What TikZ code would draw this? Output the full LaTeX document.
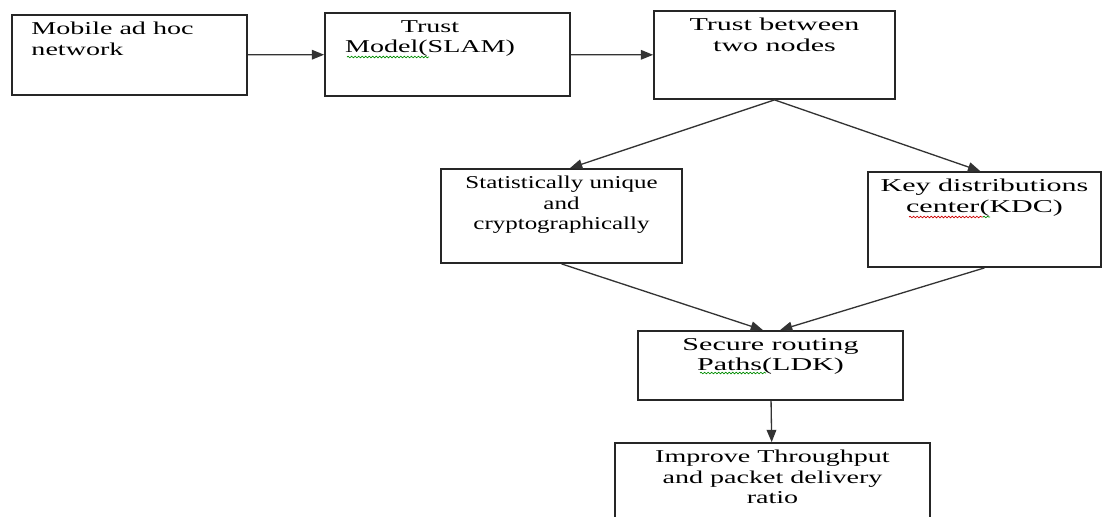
\documentclass[tikz,border=0pt]{standalone}
\usepackage{fontspec}
\setmainfont[FakeStretch=1.55]{Liberation Serif}
\newfontfamily\widefont[FakeStretch=1.66]{Liberation Serif}
\newfontfamily\narrowfont[FakeStretch=1.38]{Liberation Serif}
\usetikzlibrary{arrows.meta,decorations.pathmorphing}

\tikzset{
  box/.style={draw=black!85, line width=1pt, inner sep=0pt},
  lbl/.style={inner sep=0pt, align=center, yshift=-4.5pt,
    font=\fontsize{10.3}{11.5}\selectfont},
  wide/.style={font=\widefont\fontsize{10.3}{11.5}\selectfont},
  narrow/.style={font=\narrowfont\fontsize{10.3}{11.5}\selectfont},
  arr/.style={draw=black!80, line width=0.75pt, -{Triangle[length=7pt,width=5.5pt]}},
  squig/.style={decorate, line width=0.4pt,
    decoration={snake, amplitude=0.45pt, segment length=2pt}}
}

\begin{document}
\begin{tikzpicture}
  \useasboundingbox (0,0) rectangle (22.06,-10.32);

  % boxes
  \node[box, minimum width=4.70cm, minimum height=1.60cm,
    label={[lbl, anchor=north west, align=left, xshift=0.4cm]north west:{Mobile ad hoc\\network}}]
    (mobile) at (2.59,-1.10) {};
  \node[box, minimum width=4.90cm, minimum height=1.66cm,
    label={[lbl, anchor=north, xshift=-0.35cm]north:{Trust\\Model(SLAM)}}]
    (model) at (8.95,-1.09) {};
  \node[box, minimum width=4.82cm, minimum height=1.76cm,
    label={[lbl, wide, anchor=north]north:{Trust between\\two nodes}}]
    (trust) at (15.49,-1.10) {};
  \node[box, minimum width=4.82cm, minimum height=1.88cm,
    label={[lbl, narrow, anchor=north]north:{Statistically unique\\and\\cryptographically}}]
    (stat) at (11.23,-4.32) {};
  \node[box, minimum width=4.66cm, minimum height=1.90cm,
    label={[lbl, wide, anchor=north]north:{Key distributions\\center(KDC)}}]
    (kdc) at (19.69,-4.39) {};
  \node[box, minimum width=5.30cm, minimum height=1.38cm,
    label={[lbl, wide, anchor=north]north:{Secure routing\\Paths(LDK)}}]
    (secure) at (15.41,-7.31) {};
  \node[box, minimum width=6.30cm, minimum height=2.04cm,
    label={[lbl, anchor=north]north:{Improve Throughput\\and packet delivery\\ratio}}]
    (improve) at (15.45,-9.88) {};

  % arrows
  \draw[arr] (mobile) -- (model);
  \draw[arr] (model) -- (trust);
  \draw[arr] (trust.south) -- (stat.80);
  \draw[arr] (trust.south) -- (kdc.95);
  \draw[arr] (stat.south) -- (secure.102);
  \draw[arr] (kdc.south) -- (secure.75);
  \draw[arr] (secure) -- (improve);

  % spell check marks
  \draw[squig, green!55!black] (6.94,-1.14) -- (8.58,-1.14);
  \draw[squig, red!80!black] (18.18,-4.34) -- (19.66,-4.34);
  \draw[squig, green!55!black] (19.66,-4.34) -- (19.80,-4.34);
  \draw[squig, green!55!black] (14.00,-7.46) -- (15.32,-7.46);
\end{tikzpicture}
\end{document}
